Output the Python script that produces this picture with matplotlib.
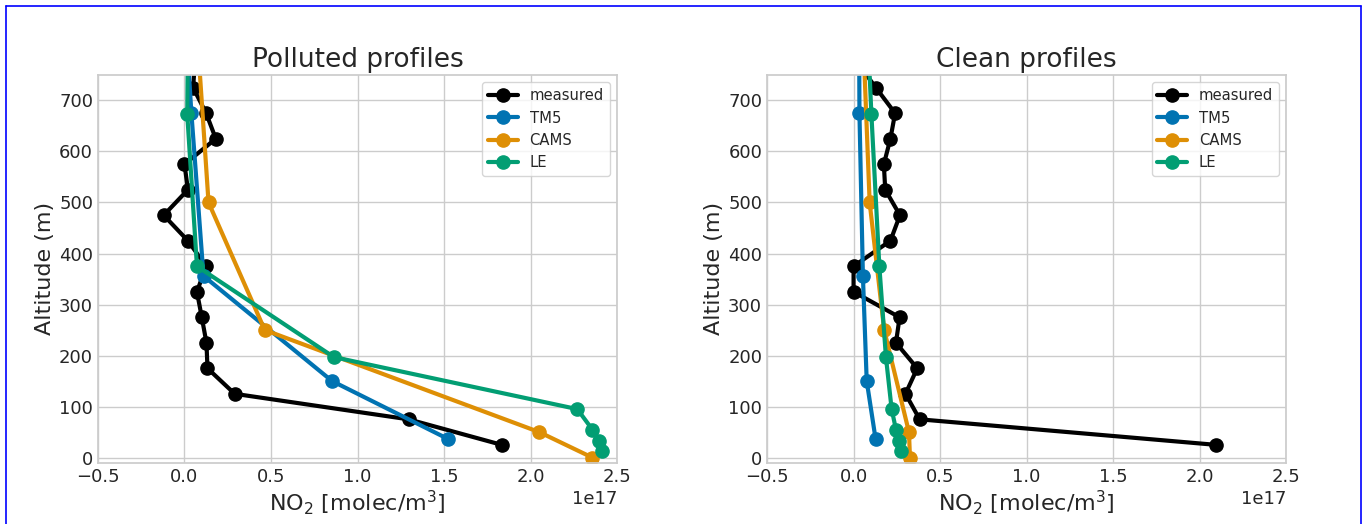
import numpy as np
import matplotlib
matplotlib.use("Agg")
import matplotlib.pyplot as plt
import seaborn as sns
from matplotlib.lines import Line2D

# altitudes (m)
alt_meas = [25, 75, 125, 175, 225, 275, 325, 375, 425, 475, 525, 575, 625, 675, 725, 775]
alt_tm5 = [37, 150, 356, 675, 1000]
alt_cams = [0, 50, 250, 500, 1000]
alt_le = [12, 32, 55, 95, 197, 375, 673, 1000]

# NO2 values (1e17 molec/m3) - polluted
pol_meas = [1.833, 1.295, 0.29, 0.133, 0.127, 0.10, 0.072, 0.125, 0.02, -0.12, 0.02, 0.0, 0.181, 0.125, 0.05, 0.06]
pol_tm5 = [1.52, 0.853, 0.11, 0.04, -0.02]
pol_cams = [2.357, 2.05, 0.464, 0.139, 0.04]
pol_le = [2.41, 2.397, 2.357, 2.27, 0.863, 0.072, 0.016, 0.025]

# clean
cln_meas = [2.093, 0.382, 0.30, 0.368, 0.245, 0.266, 0.0, 0.0, 0.213, 0.268, 0.183, 0.175, 0.213, 0.24, 0.129, 0.02]
cln_tm5 = [0.127, 0.076, 0.054, 0.034, 0.03]
cln_cams = [0.326, 0.32, 0.177, 0.093, 0.035]
cln_le = [0.276, 0.26, 0.245, 0.22, 0.187, 0.149, 0.103, 0.06]

sns.set_theme(style="whitegrid")
pal = sns.color_palette("colorblind")
colors = {"measured": "black", "TM5": pal[0], "CAMS": pal[1], "LE": pal[2]}

fig = plt.figure(figsize=(13.68, 5.24), dpi=100)
ax1 = fig.add_axes([0.0716, 0.117, 0.3795, 0.740])
ax2 = fig.add_axes([0.5607, 0.117, 0.3795, 0.740])

def draw(ax, title, meas, tm5, cams, le):
    series = [("measured", meas, alt_meas), ("TM5", tm5, alt_tm5),
              ("CAMS", cams, alt_cams), ("LE", le, alt_le)]
    for name, vals, alts in series:
        ax.plot(np.array(vals) * 1e17, alts, "-o", color=colors[name],
                lw=3, ms=9.5, label=name)
    ax.set_xlim(-0.5e17, 2.5e17)
    ax.set_ylim(-10, 750)
    ax.set_xticks(np.arange(-0.5, 2.51, 0.5) * 1e17)
    ax.set_title(title, fontsize=19)
    ax.set_xlabel("NO$_2$ [molec/m$^3$]", fontsize=16, labelpad=2)
    ax.set_ylabel("Altitude (m)", fontsize=16, labelpad=3)
    ax.tick_params(labelsize=13, length=0, pad=3.5, labelcolor="#262626")
    ax.xaxis.get_offset_text().set_fontsize(13)
    ax.legend(loc="upper right", fontsize=10.6, frameon=True)

draw(ax1, "Polluted profiles", pol_meas, pol_tm5, pol_cams, pol_le)
draw(ax2, "Clean profiles", cln_meas, cln_tm5, cln_cams, cln_le)

# blue frame from the source document
for xs, ys in [([6 / 1368, 6 / 1368], [0, 1 - 6 / 524]),
               ([6 / 1368, 1361 / 1368], [1 - 6 / 524, 1 - 6 / 524]),
               ([1361 / 1368, 1361 / 1368], [0, 1 - 6 / 524])]:
    fig.add_artist(Line2D(xs, ys, color="blue", lw=1.2, transform=fig.transFigure))

fig.savefig("out.png", dpi=100)
